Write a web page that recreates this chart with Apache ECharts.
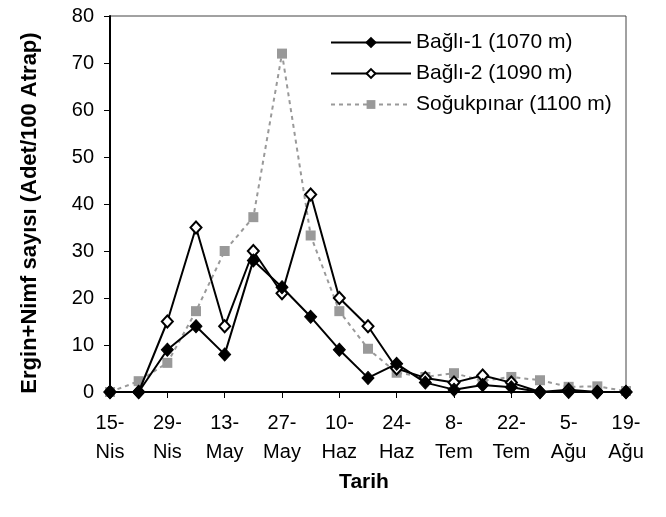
<!DOCTYPE html>
<html>
<head>
<meta charset="utf-8">
<script src="https://cdn.jsdelivr.net/npm/echarts@6/dist/echarts.min.js"></script>
<style>html,body{margin:0;padding:0;background:#fff}#c{width:666px;height:517px}</style>
</head>
<body>
<div id="c"></div>
<script>
var categories = ['15-Nis','22-Nis','29-Nis','6-May','13-May','20-May','27-May','3-Haz','10-Haz','17-Haz','24-Haz','1-Tem','8-Tem','15-Tem','22-Tem','29-Tem','5-Ağu','12-Ağu','19-Ağu'];
var bagli1 = [0,0,9,14,8,28,22.3,16,9,3,6,2,0.5,1.5,1,0,0,0,0];
var bagli2 = [0,0,15,35,14,30,21,42,20,14,5,3,2,3.5,2,0,0.5,0,0];
var sogukpinar = [0,2.3,6.2,17.2,30,37.2,72,33.3,17.2,9.2,4.1,3.2,4,2.4,3.2,2.5,1.1,1.2,0.2];
var seriesNames = ['Bağlı-1 (1070 m)','Bağlı-2 (1090 m)','Soğukpınar (1100 m)'];
var yTicks = {min:0, max:80, interval:10};
var xTitle = 'Tarih';
var yTitle = 'Ergin+Nimf sayısı (Adet/100 Atrap)';

var FONT = 'Liberation Sans, Arial, sans-serif';
var chart = echarts.init(document.getElementById('c'));
chart.setOption({
  animation:false,
  backgroundColor:'#fff',
  grid:{left:110,right:40,top:16,bottom:125,show:true,borderColor:'#444',borderWidth:1,containLabel:false},
  legend:{
    orient:'vertical', left:325, top:27,
    itemWidth:80, itemHeight:11, itemGap:10,
    textStyle:{fontFamily:FONT,fontSize:21,color:'#000',lineHeight:21},
    data:seriesNames
  },
  xAxis:{
    type:'category', data:categories, boundaryGap:false,
    name:xTitle, nameLocation:'middle', nameGap:80,
    nameTextStyle:{fontFamily:FONT,fontSize:21,fontWeight:'bold',color:'#000',padding:[0,8,0,0]},
    axisLine:{lineStyle:{color:'#000',width:2}},
    axisTick:{show:true,interval:1,length:6,inside:false,lineStyle:{color:'#000',width:1}},
    axisLabel:{interval:1,margin:17,fontFamily:FONT,fontSize:20,color:'#000',lineHeight:29,
      formatter:function(v){var i=v.indexOf('-');return v.slice(0,i+1)+'\n'+v.slice(i+1);}},
    splitLine:{show:false}
  },
  yAxis:{
    type:'value', min:yTicks.min, max:yTicks.max, interval:yTicks.interval,
    name:yTitle, nameLocation:'middle', nameGap:69, nameRotate:90,
    nameTextStyle:{fontFamily:FONT,fontSize:22,fontWeight:'bold',color:'#000',padding:[0,18,0,0]},
    axisLine:{show:true,lineStyle:{color:'#000',width:2}},
    axisTick:{show:true,length:6,inside:false,lineStyle:{color:'#000',width:1}},
    axisLabel:{margin:16,fontFamily:FONT,fontSize:20,color:'#000'},
    splitLine:{show:false}
  },
  series:[
    {name:seriesNames[2],type:'line',data:sogukpinar,symbol:'rect',symbolSize:10,z:1,
      lineStyle:{color:'#999',width:2,type:[4,4]},itemStyle:{color:'#999',borderWidth:0}},
    {name:seriesNames[0],type:'line',data:bagli1,symbol:'diamond',symbolSize:[12,13],z:3,
      lineStyle:{color:'#000',width:2},itemStyle:{color:'#000',borderColor:'#000',borderWidth:1}},
    {name:seriesNames[1],type:'line',data:bagli2,symbol:'diamond',symbolSize:[11,12],z:2,
      lineStyle:{color:'#000',width:2},itemStyle:{color:'#fff',borderColor:'#000',borderWidth:2}}
  ]
});
</script>
</body>
</html>
